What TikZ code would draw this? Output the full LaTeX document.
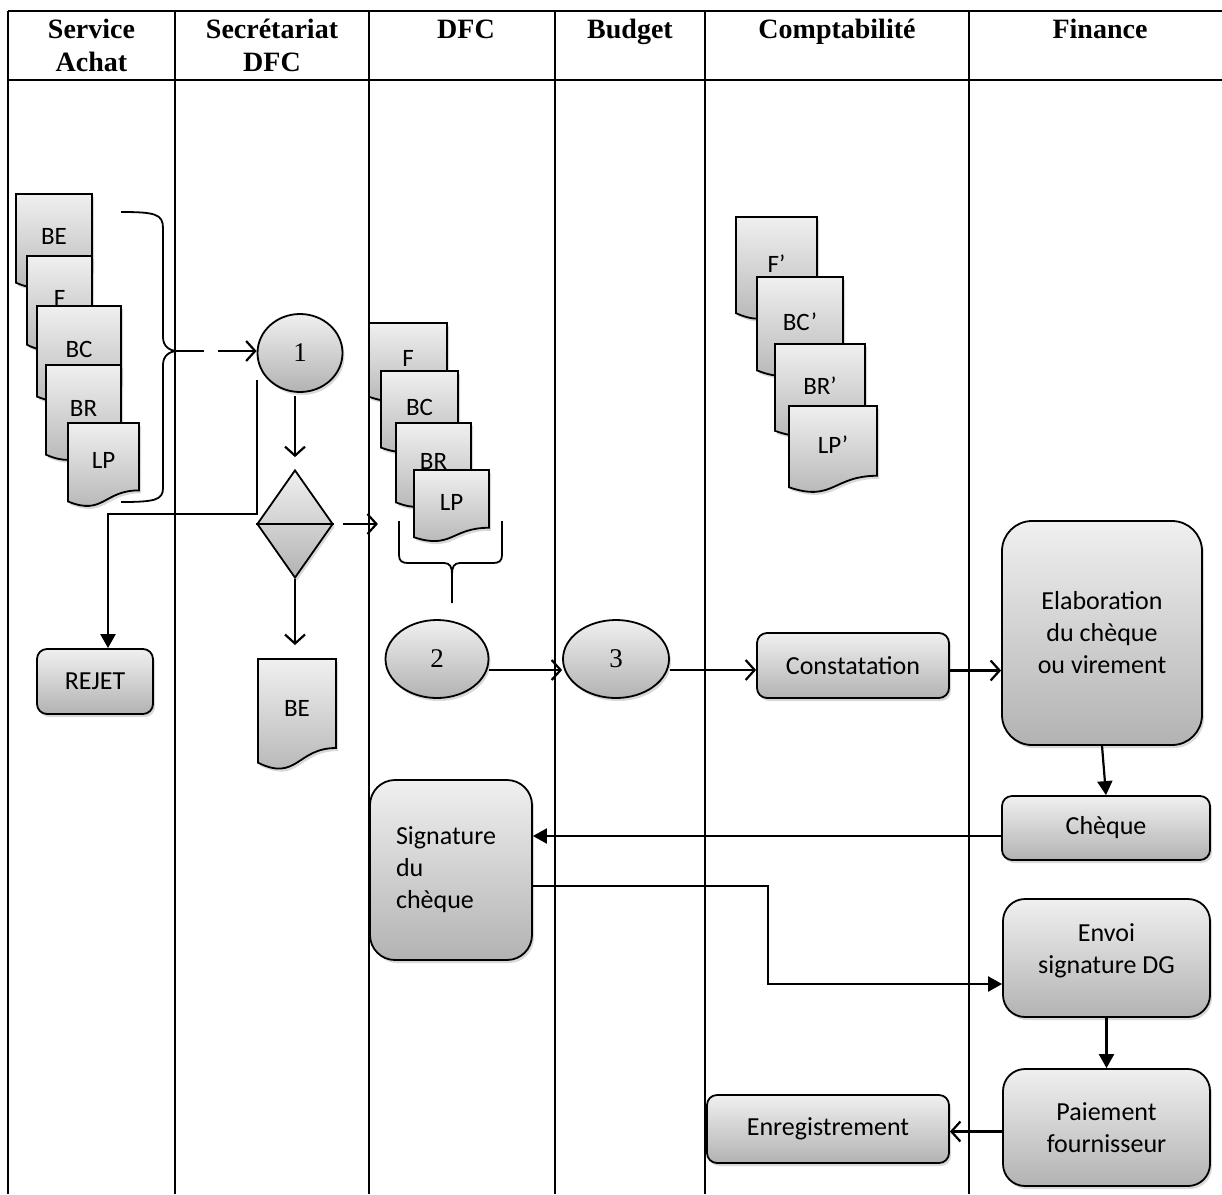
\documentclass[tikz,border=0pt]{standalone}
\usepackage{fontspec}
\setmainfont{Carlito}
\newfontfamily\timesfont{Liberation Serif}
\usetikzlibrary{shapes.geometric,arrows.meta,shadows}

% document symbol: name, x, y (top left), width, height, label
\newcommand{\docsym}[6]{%
  \path[docbox] (#2,#3) -- (#2+#4,#3) -- (#2+#4,#3+0.802*#5)
    .. controls (#2+0.5*#4,#3+0.802*#5) and (#2+0.5*#4,#3+1.1075*#5) .. (#2,#3+0.934*#5) -- cycle;
  \coordinate (#1-top) at (#2+0.5*#4,#3);
  \node[doctext] (#1) at (#2+0.5*#4,#3+0.45*#5) {#6};
}

\begin{document}
\begin{tikzpicture}[x=1pt,y=-1pt,
  grid/.style={line width=2.4pt},
  head/.style={anchor=north, align=center, inner sep=0pt, font=\timesfont\bfseries\fontsize{28}{33}\selectfont},
  fillshade/.style={top color=black!6, bottom color=black!30, drop shadow={shadow xshift=2pt, shadow yshift=-3pt, opacity=.3}},
  docbox/.style={fillshade, draw, line width=1.8pt},
  doctext/.style={inner sep=0pt, font=\fontsize{25}{30}\selectfont},
  box/.style={fillshade, draw, line width=1.8pt, rounded corners=10pt, align=center, inner sep=0pt, font=\fontsize{26}{32}\selectfont},
  oval/.style={ellipse, fillshade, draw, line width=1.8pt, inner sep=0pt, minimum height=78pt, font=\timesfont\fontsize{27}{32}\selectfont},
  openarr/.style={line width=2.2pt, -{Straight Barb[length=9pt,width=20pt]}},
  solidarr/.style={line width=2.2pt, -{Triangle[length=14pt,width=15pt]}},
  brace/.style={line width=1.8pt}]
\useasboundingbox (0,0) rectangle (1222,1194);
%
\draw[grid] (8,11) -- (1222,11) (8,80) -- (1222,80)
  (8,11) -- (8,1194) (175,11) -- (175,1194) (369,11) -- (369,1194)
  (555,11) -- (555,1194) (705,11) -- (705,1194) (969,11) -- (969,1194);
\node[head] (hAchat) at (91.5,15) {\strut Service\\Achat};
\node[head] (hSecr) at (272,15) {\strut Secrétariat\\DFC};
\node[head] (hDfc) at (466,15) {\strut DFC};
\node[head] (hBudget) at (630,15) {\strut Budget};
\node[head] (hCompta) at (837,15) {\strut Comptabilité};
\node[head] (hFin) at (1100,15) {\strut Finance};
%
\docsym{beA}{16}{194}{76}{95}{BE}
\docsym{fA}{27}{256}{65}{95}{F}
\docsym{bcA}{37}{306}{84}{97}{BC}
\docsym{brA}{46}{365}{75}{96}{BR}
\docsym{lpA}{68}{423}{71}{84}{LP}
%
\docsym{fD}{369}{323}{78}{79}{F}
\docsym{bcD}{381}{371}{77}{82}{BC}
\docsym{brD}{396}{423}{75}{85}{BR}
\docsym{lpD}{414}{470}{75}{72}{LP}
%
\docsym{fC}{736}{217}{81}{103}{F’}
\docsym{bcC}{757}{277}{86}{100}{BC’}
\docsym{brC}{775}{344}{90}{93}{BR’}
\docsym{lpC}{789}{406}{88}{87}{LP’}
%
\docsym{beS}{258}{659}{78}{111}{BE}
%
\node[oval, minimum width=85pt] (c1) at (300,353) {1};
\node[oval, minimum width=103pt] (c2) at (437,659) {2};
\node[oval, minimum width=106pt] (c3) at (616,659) {3};
\node[diamond, fillshade, draw, line width=1.8pt, inner sep=0pt, minimum width=76pt, minimum height=108pt] (dia) at (295,524) {};
\draw[line width=1.8pt] (dia.west) -- (dia.east);
%
\node[box, minimum width=116pt, minimum height=65pt] (rejet) at (95,681.5) {REJET};
\node[box, minimum width=192pt, minimum height=65pt] (constat) at (853,665.5) {Constatation};
\node[box, rounded corners=30pt, minimum width=200pt, minimum height=224pt] (elab) at (1102,633) {Elaboration\\du chèque\\ou virement};
\node[box, minimum width=208pt, minimum height=64pt] (cheque) at (1106,828) {Chèque};
\node[box, rounded corners=25pt, minimum width=162pt, minimum height=180pt, text width=110pt, align=left] (sign) at (451,870) {Signature\\du\\chèque};
\node[box, rounded corners=22pt, minimum width=207pt, minimum height=118pt] (envoi) at (1106.5,958) {Envoi\\signature DG\\[-14pt]};
\node[box, rounded corners=22pt, minimum width=207pt, minimum height=117pt] (paie) at (1106.5,1127.5) {Paiement\\fournisseur};
\node[box, minimum width=242pt, minimum height=68pt] (enreg) at (828,1129) {Enregistrement};
%
\draw[brace] (121,212) .. controls (155,212) and (163,214) .. (163,228) -- (163,337)
  .. controls (163,346) and (169,351) .. (178,351) .. controls (169,351) and (163,356) .. (163,365)
  -- (163,488) .. controls (163,500) and (155,502) .. (121,502);
\coordinate (tipA) at (178,351);
\draw[brace] (tipA) -- ++(26,0);
\coordinate (inA) at (218,351);
\draw[openarr] (inA) -- (c1.west |- inA);
\draw[brace] (399,521) -- (399,555) .. controls (399,561) and (402,563) .. (408,563) -- (444,563)
  .. controls (450,563) and (452,567) .. (452,574) -- (452,603);
\draw[brace] (502,521) -- (502,555) .. controls (502,561) and (499,563) .. (493,563) -- (460,563)
  .. controls (454,563) and (452,567) .. (452,574);
%
\draw[openarr, shorten <=3pt, shorten >=12pt] (c1.south -| dia.north) -- (dia.north);
\draw[solidarr] ([yshift=-27pt]c1.west) -- ++(0,134) -| ([xshift=13pt]rejet.north);
\draw[openarr, shorten >=14pt] (dia.south) -- (dia.south |- beS-top);
\draw[openarr] ([xshift=9pt]dia.east) -- ++(35,0);
\draw[openarr] ([yshift=-11pt]c2.east) -- ([yshift=-11pt]c3.west);
\draw[openarr] ([yshift=-11pt]c3.east) -- ([yshift=-11pt]c3.east -| constat.west);
\draw[openarr] ([yshift=-5pt]constat.east) -- ([yshift=-5pt]constat.east -| elab.west);
\draw[solidarr] (elab.south) -- (cheque.north);
\draw[solidarr] ([yshift=-8pt]cheque.west) -- ([yshift=-8pt]cheque.west -| sign.east);
\draw[solidarr] ([yshift=-16pt]sign.east) -- ++(235,0) |- ([yshift=-26pt]envoi.west);
\draw[solidarr] (envoi.south) -- (paie.north);
\draw[openarr] ([yshift=-4pt]paie.west) -- ([yshift=-4pt]paie.west -| enreg.east);
%%%%%%%%%%%%%%%%%%%%%%%%%%%%%%%
\end{tikzpicture}
\end{document}
